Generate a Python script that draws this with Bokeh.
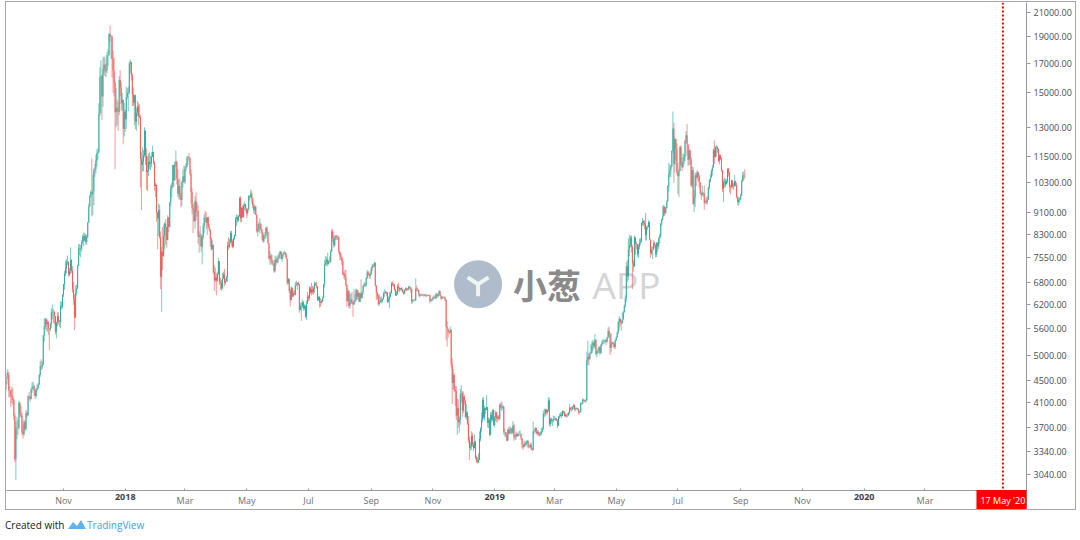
import math
import pandas as pd
from bokeh.plotting import figure
from bokeh.models import (ColumnDataSource, FixedTicker, NumeralTickFormatter, Span,
                          Label, Div, Range1d, DatetimeAxis)
from bokeh.layouts import column
from bokeh.embed import file_html
from bokeh.resources import INLINE
from bokeh.core.properties import value

# ---------------- data (daily BTC/USD candles) ----------------
start_date = "2017-09-04"
first_open = 4580

closes = [
    4330,4440,4640,4610,4320,4320,4230,4200,4150,3880,3240,3700,3700,3690,4100,3920,3890,3630,3600,3790,3680,3930,3890,4210,4200,4170,4340,
    4390,4400,4310,4220,4330,4370,4430,4610,4780,4770,4820,5440,5640,5820,5700,5750,5600,5580,5700,5990,6000,5990,5900,5520,5740,5890,5770,5750,6150,6130,6450,
    6730,7030,7200,7380,7400,7020,7120,7460,7130,6600,6330,5860,6510,6620,7280,7820,7800,7820,8040,8230,8090,8260,8040,8210,8720,9320,9760,9900,9830,9950,
    10860,10910,11290,11660,11700,13750,16000,16080,14780,16600,16880,16430,16500,17570,17600,19190,18950,18980,17290,16480,15630,13830,14100,13980,13860,15830,15340,14350,14560,12900,13860,
    13440,14750,15010,15050,16950,17070,16150,14910,14400,14850,13300,13800,14190,13620,13560,11400,11120,11230,11560,12820,11550,10780,10840,11250,11130,11170,11470,11720,11210,10160,10220,
    9100,8870,9180,8200,6950,7720,7590,8260,8690,8560,8110,8900,8560,9490,10070,10180,11090,10410,11150,11250,10480,9840,10160,9700,9590,10320,10580,10330,
    10920,11000,11420,11450,11430,10710,9910,9280,9200,8770,9530,9140,9150,8220,8260,8270,7880,8200,8600,8900,8880,8700,8920,8550,8450,8140,7800,7940,7090,6840,6930,
    6840,7030,7420,6800,6780,6620,6900,7020,6780,6830,6940,7920,7890,8000,8350,8060,7890,8160,8270,8860,8920,8800,8940,9650,8870,9280,8930,9350,9410,9240,
    9070,9220,9750,9690,9840,9630,9370,9180,9310,9010,8410,8470,8680,8680,8480,8350,8070,8240,8240,8530,8390,8000,7510,7590,7460,7350,7350,7110,7460,7390,7490,
    7520,7640,7720,7490,7620,7650,7690,7620,7500,6780,6880,6550,6300,6640,6400,6490,6450,6710,6740,6770,6720,6050,6160,6150,6250,6090,6150,5880,6210,6390,
    6360,6620,6510,6590,6530,6610,6760,6710,6670,6300,6390,6250,6230,6270,6350,6740,7320,7380,7470,7330,7410,7400,7720,8400,8170,7930,8180,8230,8210,8180,7730,
    7610,7540,7420,7010,7030,6940,6720,6280,6550,6150,6240,6320,6250,6190,6270,6310,6580,6390,6490,6260,6480,6360,6520,6690,6740,6710,6910,7080,7030,6980,7030,
    7200,7280,7260,7360,6700,6500,6410,6200,6240,6300,6280,6330,6480,6490,6520,6500,6260,6340,6390,6490,6760,6720,6710,6590,6430,6460,6680,6640,6600,6630,
    6590,6520,6480,6570,6620,6590,6610,6670,6650,6610,6270,6300,6300,6300,6620,6600,6570,6470,6420,6430,6440,6450,6430,6450,6430,6420,6440,6430,6280,6300,6320,
    6370,6390,6350,6470,6410,6470,6540,6420,6340,6380,6380,6370,6300,5640,5590,5520,5500,5570,4810,4460,4610,4340,4310,3890,4010,3780,3820,4250,4270,3970,
    4210,4140,3860,3940,3760,3510,3400,3420,3570,3450,3390,3490,3260,3220,3200,3230,3530,3680,3820,4150,3860,4010,3980,4030,3770,3820,3590,3900,3820,3980,3740,
    3860,3940,3840,3870,3840,4070,4020,4020,4040,3630,3630,3590,3500,3670,3610,3660,3680,3620,3730,3550,3560,3600,3570,3600,3600,3600,3540,3440,3410,3460,3440,
    3470,3500,3410,3410,3440,3380,3370,3640,3640,3690,3610,3630,3600,3580,3600,3630,3680,3920,3920,3990,3940,3980,4140,3750,3830,3800,3810,3820,
    3830,3840,3810,3730,3870,3880,3900,3880,3960,3950,3880,3900,3890,3890,3930,4020,3990,3990,4030,4060,3990,4000,4010,3990,3940,3950,4100,4090,4160,4140,4130,
    4140,4900,4970,4920,5030,5060,5210,5280,5190,5340,5030,5090,5100,5170,5050,5230,5280,5300,5300,5330,5300,5390,5540,5450,5160,5250,5280,5250,5180,5330,
    5390,5500,5740,5830,5760,5720,5810,5990,6160,6350,7260,6960,7790,7950,8190,7870,7360,7260,8200,7990,7960,7640,7870,8010,8060,8700,8780,8720,8660,8270,8550,
    8560,8740,8120,7660,7790,7800,8000,7930,7630,8010,7900,8160,8230,8690,8830,8950,9320,9080,9270,9520,10170,10700,10860,11030,11780,12930,11130,12370,11900,10750,
    10590,10820,11980,11150,10990,11250,11470,12290,12570,12100,11340,11790,11360,10190,10850,9430,9690,10630,10530,10760,10600,10320,9850,9780,9880,9850,9480,9530,9500,9590,10090,
    10400,10530,10820,10980,11800,11470,11960,11970,11850,11290,11540,11390,10870,10050,10310,10360,10230,10350,10920,10760,10130,10110,10400,10140,10140,10370,10190,9720,9500,9580,9600,
    9760,10380,10620,10590,10570,
]

highs = [
    4600,4520,4680,4720,4670,4400,4340,4390,4360,4170,3920,3800,3870,3820,4140,4120,4050,3940,3740,3830,3800,3980,3960,4230,4290,4220,4360,
    4470,4480,4430,4350,4360,4430,4460,4630,4880,4920,4880,5450,5850,5840,5850,5810,5770,5600,5730,6090,6190,6070,6030,5900,5760,5980,6000,5800,6270,6260,6460,
    6750,7130,7440,7480,7600,7410,7210,7860,7450,7270,6800,6460,6700,6730,7320,7970,7980,7940,8110,8290,8360,8350,8300,8300,8740,9440,9780,9980,11400,10650,
    10950,11150,11580,11840,11900,14370,16720,17200,16200,17400,17500,17400,16970,17800,18000,19300,19890,19100,19100,17900,17400,15800,15300,14600,14450,16100,16500,15700,15000,14600,14400,
    14000,15400,15300,15400,17100,17250,17070,16300,15350,14900,14900,14100,14500,14400,14300,13700,11700,11950,11820,13000,12800,11900,11500,11650,11700,11530,11700,12030,11730,11270,10300,
    10160,9100,9450,9400,8400,7880,8560,8650,8740,8850,8550,8990,8930,9500,10220,10300,11100,11080,11270,11790,11300,10910,10410,10500,9860,10400,10880,11070,
    11060,11180,11520,11530,11670,11470,10900,10090,9420,9500,9730,9890,9480,9370,8410,8600,8350,8260,8700,9030,9170,9100,8930,8930,8660,8480,8200,8100,7960,7290,7220,
    7050,7100,7520,7420,6920,6870,7060,7100,7180,6890,6980,8050,8200,8150,8420,8420,8130,8200,8300,8930,9030,8990,9000,9720,9750,9300,9380,9450,9530,9440,
    9250,9260,9790,9740,10020,9940,9670,9460,9380,9370,9020,8660,8760,8880,8700,8490,8380,8290,8380,8560,8590,8400,8000,7740,7650,7630,7410,7460,7590,7560,7600,
    7600,7700,7760,7740,7650,7700,7760,7710,7680,7480,6920,6910,6600,6680,6650,6540,6580,6800,6840,6800,6810,6740,6230,6250,6320,6280,6200,6180,6290,6520,
    6440,6680,6670,6780,6690,6680,6810,6790,6800,6680,6400,6400,6350,6320,6400,6750,7470,7580,7560,7690,7450,7570,7800,8480,8480,8290,8270,8280,8280,8260,8230,
    7740,7680,7550,7500,7080,7160,7150,6730,6620,6570,6470,6480,6530,6270,6600,6480,6620,6580,6570,6520,6500,6880,6550,6720,6800,6780,6950,7150,7130,7050,7100,
    7240,7340,7330,7410,7390,6710,6530,6470,6460,6390,6400,6350,6530,6600,6560,6540,6520,6400,6510,6540,6800,6820,6760,6740,6600,6550,6740,6780,6650,6630,
    6660,6620,6560,6610,6650,6640,6630,6690,6690,6640,6610,6330,6320,6340,6900,6700,6620,6580,6480,6470,6480,6470,6470,6460,6470,6450,6450,6460,6440,6340,6350,
    6400,6440,6400,6510,6480,6480,6580,6550,6430,6410,6400,6410,6390,6340,5770,5570,5540,5650,5570,4940,4730,4640,4400,4400,4180,4160,3870,4350,4420,4310,
    4300,4240,4140,4080,3960,3880,3560,3480,3640,3620,3480,3590,3500,3290,3270,3320,3640,3700,3940,4190,4200,4050,4020,4240,4030,3860,3850,3950,3950,3990,3990,
    3880,3970,3950,3890,3900,4090,4110,4120,4070,4040,3680,3620,3610,3680,3710,3720,3700,3700,3800,3760,3580,3640,3620,3620,3640,3660,3610,3540,3440,3500,3490,
    3500,3510,3500,3440,3470,3470,3400,3790,3670,3700,3700,3660,3660,3630,3640,3690,3710,3970,4000,4000,4000,3990,4200,4190,3860,3850,3840,3890,
    3880,3850,3850,3830,3880,3920,3940,3950,3980,3970,3960,3920,3910,3930,3950,4090,4030,4040,4050,4090,4070,4020,4020,4020,4000,3960,4110,4110,4180,4160,4150,
    4170,5080,5320,5050,5080,5250,5300,5340,5300,5470,5350,5110,5160,5200,5200,5250,5330,5360,5340,5360,5340,5400,5620,5640,5500,5480,5310,5290,5270,5350,
    5410,5530,5780,5900,5840,5800,5980,6020,6190,6430,7390,7450,8150,8290,8260,8270,7950,7450,8260,8100,8050,7970,7970,8150,8170,8720,8890,8800,8810,9080,8590,
    8620,8810,8770,8120,7900,7880,8100,8060,7960,8040,8020,8200,8320,8700,8870,9360,9390,9330,9310,9560,10200,11200,11120,11100,11800,13880,13250,12450,12380,12160,
    11200,10920,12000,12040,11450,11650,11620,12300,12790,13180,12100,11900,11820,11460,11040,11000,9960,10750,10750,10870,10810,10660,10320,9930,10180,9890,10190,9600,9700,9720,10140,
    10450,10670,10900,11080,11900,12300,12000,12050,12000,11900,11620,11590,11460,10880,10440,10520,10480,10450,10940,10950,10770,10220,10440,10400,10280,10630,10390,10300,9730,9690,9690,
    9840,10440,10780,10800,10900,
]

lows = [
    4100,4160,4420,4530,4200,4190,4030,4100,4060,3810,3200,2970,3520,3580,3670,3870,3850,3580,3530,3570,3640,3660,3850,3890,4150,4120,4160,
    4280,4340,4220,4170,4190,4300,4340,4420,4570,4700,4720,4800,5300,5580,5550,5520,5450,5110,5540,5620,5820,5730,5690,5460,5370,5650,5700,5640,5600,6060,6080,
    6380,6580,6970,7050,7300,6960,6960,7030,7060,6500,6180,5560,5840,6430,6610,7270,7600,7540,7720,7960,7900,8060,7950,7950,8170,8700,9320,9670,8950,9000,
    9380,10560,10710,11020,11350,11650,13600,13800,13400,14150,16150,16100,16030,16300,16800,17500,18600,17300,16000,15000,14800,10900,13000,13100,12800,13670,14800,13900,13950,12100,12500,
    12750,12900,14600,13900,14900,16300,15800,14200,14200,13100,12900,12800,13600,13100,13500,10100,9200,10800,10800,11460,11100,10000,9950,10600,10900,10850,11000,11500,11100,9950,9700,
    8750,7800,8250,8150,6600,6000,7150,7550,7800,7950,7850,8100,8370,8550,9350,9700,10080,10120,10400,11000,10230,9700,9600,9600,9300,9350,10100,10300,
    10240,10800,11050,11100,11300,10610,9430,9040,8350,8750,8500,8800,8950,7990,7690,7900,7720,7320,8120,8340,8750,8490,8290,8520,8400,7880,7750,7790,7030,6550,6810,
    6430,6800,7000,6720,6580,6550,6600,6880,6680,6730,6810,6800,7780,7840,8000,7900,7830,7860,8120,8230,8600,8720,8750,8920,8730,8730,8910,8880,9190,9120,
    8870,8980,9170,9560,9680,9450,9260,9060,9020,8990,8360,8230,8380,8330,8430,8120,8020,8010,8160,8140,8310,7990,7440,7300,7350,7300,7270,7070,7080,7280,7350,
    7360,7470,7620,7470,7400,7520,7650,7560,7500,6720,6730,6500,6140,6300,6380,6390,6450,6420,6680,6580,6700,5980,6040,5780,6090,6030,6040,5850,5800,6210,
    6270,6300,6470,6430,6460,6450,6500,6700,6620,6290,6290,6110,6130,6220,6250,6350,6650,7280,7280,7260,7310,7380,7370,7710,8050,7850,7890,8110,8110,8100,7650,
    7450,7450,7300,6990,6900,6850,6680,6130,6250,6100,6080,6200,6200,5880,6180,6220,6270,6330,6300,6250,6250,6330,6360,6450,6660,6650,6670,6880,6980,6890,6890,
    7000,7120,7220,7240,6670,6310,6330,6150,6170,6240,6230,6220,6320,6390,6480,6420,6230,6240,6100,6380,6480,6690,6660,6560,6420,6420,6450,6540,6520,6560,
    6550,6500,6450,6460,6540,6550,6560,6560,6580,6500,6200,6230,6270,6280,6270,6550,6530,6400,6370,6410,6410,6420,6390,6410,6390,6390,6430,6410,6220,6250,6270,
    6300,6350,6330,6330,6360,6380,6420,6410,6310,6340,6350,6340,6270,5330,5190,5390,5460,5500,4750,4080,4330,4290,4050,3820,3590,3700,3620,3740,4110,3870,
    3930,4070,3860,3820,3740,3470,3230,3360,3370,3410,3350,3390,3240,3190,3180,3190,3230,3490,3630,3780,3830,3810,3910,3980,3700,3690,3560,3580,3780,3800,3720,
    3700,3800,3780,3790,3820,3810,3990,3960,3990,3590,3560,3550,3490,3500,3590,3600,3600,3590,3610,3500,3520,3510,3550,3560,3570,3580,3510,3390,3370,3400,3420,
    3420,3450,3390,3390,3400,3370,3350,3360,3600,3630,3600,3580,3570,3560,3580,3580,3620,3660,3860,3880,3900,3920,3950,3720,3710,3760,3720,3780,
    3810,3810,3800,3690,3720,3840,3870,3850,3880,3910,3870,3860,3860,3860,3890,3910,3970,3950,3980,4000,3960,3970,3990,3970,3900,3930,3940,4070,4080,4120,4110,
    4100,4140,4800,4800,4920,5040,5050,5100,5150,5150,5000,4960,5050,5040,5010,5040,5200,5250,5240,5280,5220,5270,5370,5400,5010,5070,5230,5180,5150,5140,
    5310,5380,5470,5550,5650,5550,5710,5850,5980,6110,6250,6800,6860,7580,7860,7690,6600,7100,7240,7620,7800,7560,7520,7800,7930,8030,8600,8590,8480,8090,8090,
    8460,8550,8110,7530,7620,7480,7760,7850,7530,7550,7720,7810,7990,8180,8600,8800,8960,8980,9040,9250,9510,9930,10540,10560,11000,11680,10300,10750,11300,10650,
    9830,9700,10850,11060,10800,10970,11130,11280,12150,11530,11050,11090,11110,10120,10090,9380,9120,9300,10160,10450,10350,10090,9820,9580,9770,9710,9200,9420,9420,9400,9600,
    10000,10300,10520,10610,10980,11140,11430,11490,11680,11220,11120,11320,10780,9900,9500,10100,10100,10260,10280,10580,9890,9820,10090,10040,10000,10150,10150,9650,9380,9360,9460,
    9570,9740,10330,10400,10490,
]

price_ticks = [3040, 3340, 3700, 4100, 4500, 5000, 5600, 6200, 6800, 7550,
               8300, 9100, 10300, 11500, 13000, 15000, 17000, 19000, 21000]
time_tick_dates = ["2017-11-01", "2018-01-01", "2018-03-01", "2018-05-01", "2018-07-01",
                   "2018-09-01", "2018-11-01", "2019-01-01", "2019-03-01", "2019-05-01",
                   "2019-07-01", "2019-09-01", "2019-11-01", "2020-01-01", "2020-03-01"]
time_tick_labels = ["Nov", "2018", "Mar", "May", "Jul", "Sep", "Nov", "2019", "Mar",
                    "May", "Jul", "Sep", "Nov", "2020", "Mar"]
marker_date = "2020-05-17"
marker_label = "17 May '20"

# ---------------- build candles ----------------
n = min(len(closes), len(highs), len(lows))
dates = pd.date_range(start_date, periods=n, freq="D")
opens = [first_open] + closes[:n - 1]
UP, DOWN = "#26a69a", "#ef5350"
hi = [max(h, o, c) for h, o, c in zip(highs[:n], opens, closes[:n])]
lo = [min(l, o, c) for l, o, c in zip(lows[:n], opens, closes[:n])]
src = ColumnDataSource(dict(
    x=dates, open=opens, close=closes[:n], high=hi, low=lo,
    top=[max(o, c) for o, c in zip(opens, closes[:n])],
    bottom=[min(o, c) for o, c in zip(opens, closes[:n])],
    color=[UP if c >= o else DOWN for o, c in zip(opens, closes[:n])],
))

# ---------------- layout geometry ----------------
X0 = pd.Timestamp("2017-09-05 17:00")
X1 = pd.Timestamp("2020-06-09 08:00")
Y_TOP = 21900          # value at the top edge of the frame
Y_AXIS = 2843          # value where the time axis sits
Y_BOT = 2603           # value at the bottom of the time-axis band
W, H = 1071, 509
RIGHT = 51
px_per_ln = H / math.log(Y_TOP / Y_BOT)

p = figure(width=W, height=H, x_axis_type="datetime", y_axis_type="log",
           y_axis_location="right", x_range=Range1d(X0, X1), y_range=Range1d(Y_BOT, Y_TOP),
           output_backend="svg", toolbar_location=None,
           min_border_left=0, min_border_top=0, min_border_right=RIGHT, min_border_bottom=0,
           margin=(1, 0, 0, 5))
p.styles = {"border": "1px solid #a3a6af"}
p.background_fill_color = "white"
p.border_fill_color = "white"
p.outline_line_color = None
p.xgrid.visible = False
p.ygrid.visible = False

# watermark
def fx(frac):
    return X0 + (X1 - X0) * frac

wm_y = 6737
p.scatter(x=[fx(0.4623)], y=[wm_y], size=48, fill_color="#a7b5c5", line_color=None, fill_alpha=0.9)
p.scatter(x=[fx(0.4623)], y=[wm_y], marker="y", size=24, line_color="#eef5ef", line_width=4)
p.text(x=[fx(0.4966)], y=[wm_y], text=["小葱"], text_font=value("Noto Sans CJK SC"),
       text_font_style="bold", text_font_size="34px", text_color="#8a8a8a",
       text_baseline="middle", text_align="left")
p.text(x=[fx(0.5745)], y=[wm_y], text=["APP"], text_font=value("Open Sans"),
       text_font_size="37px", text_color="#d4d4d4",
       text_baseline="middle", text_align="left")

# candles
p.segment(x0="x", y0="high", x1="x", y1="low", line_color="color", line_alpha=0.6,
          line_width=1, source=src)
p.vbar(x="x", width=0.85 * 86400000, top="top", bottom="bottom", fill_color="color",
       line_color=None, source=src)

# marker line and its date box
marker_ms = pd.Timestamp(marker_date).value // 10**6
p.add_layout(Span(location=marker_ms, dimension="height", line_color="#ff0000",
                  line_dash="2 2", line_width=2))
p.add_layout(Label(x=marker_ms, y=Y_AXIS * math.exp(-10 / px_per_ln), text=marker_label,
                   text_align="center", text_baseline="middle", text_color="white",
                   text_font="Open Sans", text_font_size="9px",
                   background_fill_color="#ff0000", padding=4))

# axes
AX = "#9598a1"
yax = p.yaxis[0]
yax.ticker = FixedTicker(ticks=price_ticks)
yax.formatter = NumeralTickFormatter(format="0.00")
yax.axis_line_color = AX
yax.major_tick_line_color = AX
yax.major_tick_in = 0
yax.major_tick_out = 4
yax.minor_tick_line_color = None
yax.major_label_standoff = 3
yax.major_label_text_font = "Open Sans"
yax.major_label_text_font_size = "9px"
yax.major_label_text_color = "#4a4d55"

tick_ms = [int(pd.Timestamp(d).value // 10**6) for d in time_tick_dates]
month_ticks = [t for t, s in zip(tick_ms, time_tick_labels) if not s.isdigit()]
year_ticks = [t for t, s in zip(tick_ms, time_tick_labels) if s.isdigit()]
overrides = {t: s for t, s in zip(tick_ms, time_tick_labels)}


def style_time_axis(ax, ticks, color, weight):
    ax.fixed_location = Y_AXIS
    ax.ticker = FixedTicker(ticks=ticks)
    ax.major_label_overrides = {t: overrides[t] for t in ticks}
    ax.axis_line_color = AX
    ax.major_tick_line_color = AX
    ax.major_tick_in = 2
    ax.major_tick_out = 0
    ax.minor_tick_line_color = None
    ax.major_label_standoff = 4
    ax.major_label_text_font = "Open Sans"
    ax.major_label_text_font_size = "9px"
    ax.major_label_text_color = color
    ax.major_label_text_font_style = weight


style_time_axis(p.xaxis[0], month_ticks, "#6d7078", "normal")
year_axis = DatetimeAxis()
style_time_axis(year_axis, year_ticks, "#3c3f47", "bold")
p.add_layout(year_axis, "below")

credit = Div(
    text='Created with <svg width="20" height="11" viewBox="0 0 20 11" '
         'style="vertical-align:-1px"><path d="M1 10 L6 3 L10 7 L14 1 L19 10 Z" '
         'fill="#5fb3ef"/></svg><span style="color:#3ba3ee">TradingView</span>',
    width=1000, height=20, margin=(0, 0, 0, 5),
    styles={"font-family": "Open Sans", "font-size": "10px", "color": "#131722",
            "padding-top": "8px"})

layout = column(p, credit)
open("out.html", "w").write(file_html(layout, INLINE))
